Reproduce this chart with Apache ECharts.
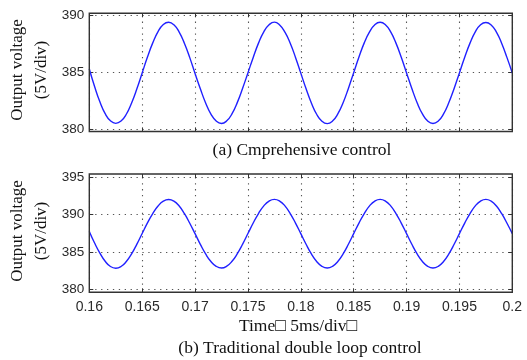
<!DOCTYPE html>
<html><head><meta charset="utf-8">
<script src="https://cdn.jsdelivr.net/npm/echarts@6/dist/echarts.min.js"></script>
<style>html,body{margin:0;padding:0;background:#fff}#c{width:527px;height:360px}</style>
</head><body><div id="c"></div>
<script>
// sampling grid (s)
const timeStart = 0.16, timeStep = 0.0005, sampleCount = 81;
const xTickLabels = ['0.16','0.165','0.17','0.175','0.18','0.185','0.19','0.195','0.2'];
const yTicksTop = [380, 385, 390];
const yTicksBottom = [380, 385, 390, 395];
// (a) Comprehensive control - output voltage (V)
const voltageA = [
 385.3, 383.75, 382.4, 381.35, 380.72, 380.5, 380.7, 381.3, 382.3, 383.55, 384.95, 386.35, 387.6, 388.6, 389.22, 389.42, 389.2, 388.55, 387.55, 386.3,
 384.9, 383.55, 382.3, 381.32, 380.7, 380.48, 380.72, 381.35, 382.35, 383.6, 384.95, 386.32, 387.58, 388.58, 389.2, 389.43, 389.18, 388.55, 387.57, 386.32,
 384.93, 383.55, 382.3, 381.3, 380.68, 380.47, 380.7, 381.33, 382.32, 383.58, 384.97, 386.35, 387.6, 388.57, 389.2, 389.42, 389.2, 388.57, 387.58, 386.33,
 384.95, 383.57, 382.32, 381.33, 380.7, 380.48, 380.7, 381.33, 382.33, 383.58, 384.95, 386.33, 387.58, 388.58, 389.2, 389.4, 389.18, 388.55, 387.55, 386.3,
 384.95
];
// (b) Traditional double loop control - output voltage (V)
const voltageB = [
 387.75, 386.2, 384.85, 383.75, 383.05, 382.82, 383.05, 383.72, 384.75, 386.05, 387.48, 388.9, 390.15, 391.15, 391.8, 392.02, 391.8, 391.15, 390.12, 388.85,
 387.45, 386.02, 384.73, 383.72, 383.08, 382.85, 383.1, 383.75, 384.78, 386.05, 387.47, 388.88, 390.15, 391.17, 391.82, 392.05, 391.82, 391.17, 390.15, 388.87,
 387.45, 386.03, 384.75, 383.73, 383.08, 382.85, 383.08, 383.73, 384.75, 386.03, 387.45, 388.87, 390.15, 391.17, 391.82, 392.05, 391.82, 391.17, 390.15, 388.87,
 387.45, 386.03, 384.75, 383.73, 383.08, 382.85, 383.08, 383.73, 384.75, 386.03, 387.45, 388.87, 390.15, 391.17, 391.82, 392.05, 391.8, 391.15, 390.12, 388.85,
 387.45
];
const times = [];
for (let i = 0; i < sampleCount; i++) times.push(+(timeStart + i * timeStep).toFixed(4));
const seriesA = times.map((t, i) => [t, voltageA[i]]);
const seriesB = times.map((t, i) => [t, voltageB[i]]);

const chart = echarts.init(document.getElementById('c'), null, {renderer: 'canvas'});
const L = 89.3, R = 527 - 512.3;
const gridA = {left: L, right: R, top: 15.7, bottom: 360 - 129};
const gridB = {left: L, right: R, top: 177.3, bottom: 360 - 289.3};
const gridLine = {show: true, lineStyle: {color: '#555', width: 1.1, type: [1.3, 4.6]}};
const sans = 'Liberation Sans, Arial, sans-serif';
function xAx(gi, pos, showLabel, off) {
  return {type: 'value', gridIndex: gi, position: pos, offset: off, min: 0.16, max: 0.2, interval: 0.005,
    axisLine: {show: false}, axisTick: {show: true, inside: true, length: 4, lineStyle: {color: '#333'}},
    axisLabel: {show: showLabel, margin: 8, fontFamily: sans, fontSize: 14, color: '#2a2a2a',
      formatter: (v) => xTickLabels[Math.round((v - 0.16) / 0.005)]},
    splitLine: pos === 'bottom' ? gridLine : {show: false}};
}
function yAx(gi, pos, mn, mx, showLabel) {
  return {type: 'value', gridIndex: gi, position: pos, min: mn, max: mx, interval: 5,
    axisLine: {show: false}, axisTick: {show: true, inside: true, length: 4, lineStyle: {color: '#333'}},
    axisLabel: {show: showLabel, margin: 5, fontFamily: sans, fontSize: 13.5, color: '#2a2a2a'},
    splitLine: pos === 'left' ? gridLine : {show: false}};
}
const serif = 'Liberation Serif, Times New Roman, serif';
const frame = (top, bottom) => ({type: 'rect', silent: true, z: 10,
  shape: {x: L, y: top, width: 512.3 - L, height: bottom - top},
  style: {fill: null, stroke: '#333', lineWidth: 1.4}});
const ylabel = (cy) => ({type: 'text', x: 30, y: cy, rotation: Math.PI / 2,
  style: {text: 'Output voltage\n(5V/div)', font: '17px ' + serif, fill: '#111', align: 'center', verticalAlign: 'middle', lineHeight: 24}});
const caption = (cx, cy, txt) => ({type: 'text', x: cx, y: cy,
  style: {text: txt, font: '17.5px ' + serif, fill: '#111', align: 'center', verticalAlign: 'middle'}});

chart.setOption({
  animation: false,
  backgroundColor: '#fff',
  grid: [gridA, gridB],
  xAxis: [xAx(0, 'bottom', false, 2.5), xAx(0, 'top', false, 2.4), xAx(1, 'bottom', true, 3), xAx(1, 'top', false, 3.3)],
  yAxis: [yAx(0, 'left', yTicksTop[0], yTicksTop[yTicksTop.length - 1], true), yAx(0, 'right', 380, 390, false),
          yAx(1, 'left', yTicksBottom[0], yTicksBottom[yTicksBottom.length - 1], true), yAx(1, 'right', 380, 395, false)],
  series: [
    {type: 'line', xAxisIndex: 0, yAxisIndex: 0, data: seriesA, smooth: true, symbol: 'none', lineStyle: {color: '#2020ff', width: 1.4}},
    {type: 'line', xAxisIndex: 2, yAxisIndex: 2, data: seriesB, smooth: true, symbol: 'none', lineStyle: {color: '#2020ff', width: 1.4}}
  ],
  graphic: [
    frame(13.3, 131.5), frame(174, 292.3),
    ylabel(70), ylabel(231),
    caption(302, 150, '(a) Cmprehensive control'),
    caption(298, 326, 'Time\u25A1 5ms/div\u25A1'),
    caption(300, 348, '(b) Traditional double loop control')
  ]
});
</script></body></html>
